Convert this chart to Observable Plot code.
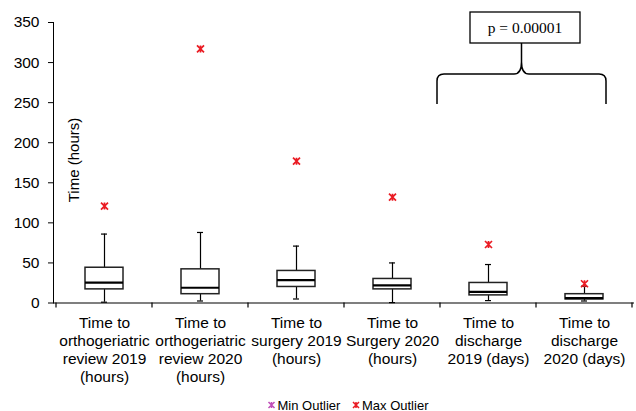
<!DOCTYPE html>
<html><head><meta charset="utf-8">
<script src="https://cdn.jsdelivr.net/npm/d3@7"></script>
<script src="https://cdn.jsdelivr.net/npm/@observablehq/plot@0.6"></script>
<style>body{margin:0;background:#fff;}</style>
</head><body><div id="chart"></div>
<script>
const categories = [
  "Time to\northogeriatric\nreview 2019\n(hours)",
  "Time to\northogeriatric\nreview 2020\n(hours)",
  "Time to\nsurgery 2019\n(hours)",
  "Time to\nSurgery 2020\n(hours)",
  "Time to\ndischarge\n2019 (days)",
  "Time to\ndischarge\n2020 (days)"
];
const whiskerLow  = [1, 2.5, 5, 0.5, 3, 2.5];
const q1          = [17, 11, 20, 17, 9.5, 4.5];
const median      = [25.5, 19, 28.5, 22, 14, 6];
const q3          = [44, 42, 40, 30, 25, 11];
const whiskerHigh = [86, 88, 71, 50, 48, 21];
const maxOutlier  = [121, 317, 177, 132, 73, 24];
const yTicks = [0, 50, 100, 150, 200, 250, 300, 350];
const yLabel = "Time (hours)";
const pLabel = "p = 0.00001";
const legendItems = ["Min Outlier", "Max Outlier"];
const legendColors = ["#c04fb8", "#ea1c24"];

const rows = categories.map((c, i) => ({
  cat: c, lo: whiskerLow[i], q1: q1[i], med: median[i], q3: q3[i], hi: whiskerHigh[i], out: maxOutlier[i]
}));

const star = {
  draw(ctx, size) {
    const s = Math.sqrt(size / Math.PI);
    ctx.moveTo(-s, -s); ctx.lineTo(s, s);
    ctx.moveTo(s, -s); ctx.lineTo(-s, s);
    ctx.moveTo(0, -s); ctx.lineTo(0, s);
  }
};

const W = 636, H = 411;
const font = "'Liberation Sans', Arial, sans-serif";
const plot = Plot.plot({
  width: W, height: H,
  marginLeft: 53, marginRight: 2, marginTop: 22, marginBottom: 108.5,
  style: {fontFamily: font, fontSize: "15px", color: "#000", background: "#fff", overflow: "visible"},
  x: {domain: categories, padding: 0, axis: null},
  y: {domain: [0, 350], axis: null},
  marks: [
    Plot.axisY({ticks: yTicks, tickSize: 5, tickPadding: 9, fontSize: 15.5, label: null, stroke: "#000"}),
    Plot.axisX({tickSize: 0, tickPadding: 12, fontSize: 15.5, lineHeight: 1.165, label: null, tickFormat: d => d}),
    Plot.ruleX(rows, {x: "cat", y1: "lo", y2: "q1", stroke: "#000", strokeWidth: 1.2}),
    Plot.ruleX(rows, {x: "cat", y1: "q3", y2: "hi", stroke: "#000", strokeWidth: 1.2}),
    Plot.barY(rows, {x: "cat", y1: "q1", y2: "q3", fill: "#fff", stroke: "#222", strokeWidth: 1.5, insetLeft: 29, insetRight: 29}),
    Plot.tickY(rows, {x: "cat", y: "med", stroke: "#000", strokeWidth: 2.2, insetLeft: 29, insetRight: 29}),
    Plot.tickY(rows, {x: "cat", y: "hi", stroke: "#000", strokeWidth: 1.2, insetLeft: 45, insetRight: 45}),
    Plot.tickY(rows, {x: "cat", y: "lo", stroke: "#000", strokeWidth: 1.2, insetLeft: 45, insetRight: 45}),
    Plot.dot(rows, {x: "cat", y: "out", symbol: star, r: 3.5, stroke: legendColors[1], strokeWidth: 1.7}),
    Plot.frame({anchor: "left", stroke: "#000"}),
    Plot.ruleY([0], {stroke: "#000", strokeWidth: 1.2})
  ]
});
document.getElementById("chart").appendChild(plot);

const svg = d3.select(plot);
const xs = plot.scale("x");
const y0 = plot.scale("y").apply(0);
// category boundary ticks
const bounds = categories.map(c => xs.apply(c)).concat([xs.apply(categories[categories.length - 1]) + xs.bandwidth]);
svg.append("g").selectAll("line").data(bounds).join("line")
  .attr("x1", d => d).attr("x2", d => d).attr("y1", y0).attr("y2", y0 + 5)
  .attr("stroke", "#000").attr("stroke-width", 1.2);

// y axis title
svg.append("text").attr("transform", "translate(78.5,160) rotate(-90)")
  .attr("text-anchor", "middle").attr("font-family", font).attr("font-size", 15).text(yLabel);

// bracket annotation
svg.append("path")
  .attr("d", "M437,104 L437,81 Q437,74 444,74 L514,74 Q521.5,74 521.5,62 L521.5,43 M521.5,62 Q521.5,74 529,74 L599,74 Q606,74 606,81 L606,104")
  .attr("fill", "none").attr("stroke", "#000").attr("stroke-width", 1.5);
svg.append("rect").attr("x", 470).attr("y", 12).attr("width", 110).attr("height", 31)
  .attr("fill", "#fff").attr("stroke", "#000").attr("stroke-width", 1.3);
svg.append("text").attr("x", 525).attr("y", 32.5).attr("text-anchor", "middle")
  .attr("font-family", "'Liberation Serif', 'Times New Roman', serif").attr("font-size", 15.5).text(pLabel);

// legend
const lg = svg.append("g").attr("text-anchor", "start");
const legendX = [271.5, 356];
legendItems.forEach((t, i) => {
  const cx = legendX[i], cy = 405;
  const s = 3;
  lg.append("path").attr("d", `M${cx - s},${cy - s}L${cx + s},${cy + s}M${cx + s},${cy - s}L${cx - s},${cy + s}M${cx},${cy - s}L${cx},${cy + s}`)
    .attr("stroke", legendColors[i]).attr("stroke-width", 1.5).attr("fill", "none");
  lg.append("text").attr("x", cx + 6).attr("y", 409.5).attr("text-anchor", "start")
    .attr("font-family", font).attr("font-size", 13).text(t);
});
</script>
</body></html>
